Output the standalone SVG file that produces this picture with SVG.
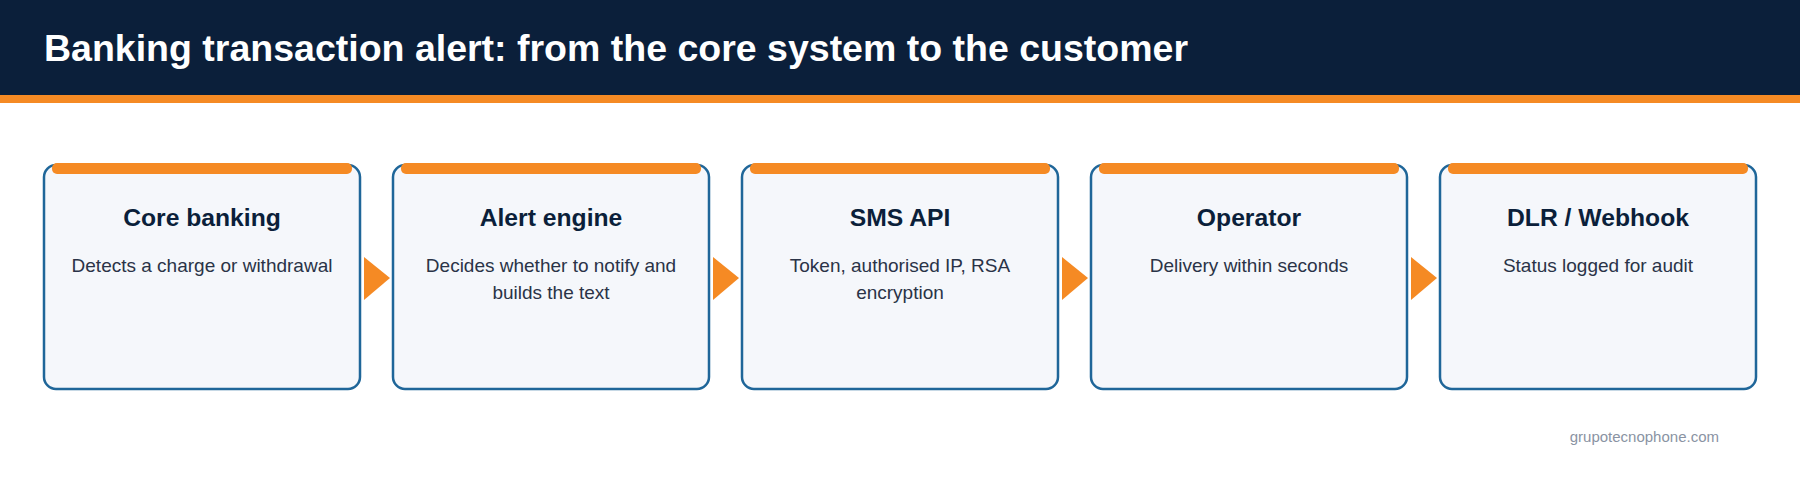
<svg xmlns="http://www.w3.org/2000/svg" width="1800" height="481" viewBox="0 0 1800 481">
<style>
.box{fill:#f5f7fb;stroke:#1f6699;stroke-width:2.5}
.bar{fill:#f58a24}
.t{font-family:"Liberation Sans",Arial,sans-serif;font-weight:bold;font-size:24.7px;fill:#0b1f3a;text-anchor:middle}
.d{font-family:"Liberation Sans",Arial,sans-serif;font-size:19px;fill:#2a3347;text-anchor:middle}
.arr{fill:#f58a24}
</style>
<rect width="1800" height="481" fill="#fff"/>
<rect width="1800" height="95" fill="#0b1f3a"/>
<rect y="95" width="1800" height="8" fill="#f58a24"/>
<text x="44" y="61" font-family="Liberation Sans,Arial,sans-serif" font-weight="bold" font-size="37.5" fill="#fff">Banking transaction alert: from the core system to the customer</text>
<g id="n1"><rect class="box" x="44" y="165" width="316" height="224" rx="12"/><rect class="bar" x="52" y="163" width="300" height="11" rx="5"/><text class="t" x="202" y="226">Core banking</text><text class="d" x="202" y="272">Detects a charge or withdrawal</text></g>
<g id="n2"><rect class="box" x="393" y="165" width="316" height="224" rx="12"/><rect class="bar" x="401" y="163" width="300" height="11" rx="5"/><text class="t" x="551" y="226">Alert engine</text><text class="d" x="551" y="272">Decides whether to notify and</text><text class="d" x="551" y="299">builds the text</text></g>
<g id="n3"><rect class="box" x="742" y="165" width="316" height="224" rx="12"/><rect class="bar" x="750" y="163" width="300" height="11" rx="5"/><text class="t" x="900" y="226">SMS API</text><text class="d" x="900" y="272">Token, authorised IP, RSA</text><text class="d" x="900" y="299">encryption</text></g>
<g id="n4"><rect class="box" x="1091" y="165" width="316" height="224" rx="12"/><rect class="bar" x="1099" y="163" width="300" height="11" rx="5"/><text class="t" x="1249" y="226">Operator</text><text class="d" x="1249" y="272">Delivery within seconds</text></g>
<g id="n5"><rect class="box" x="1440" y="165" width="316" height="224" rx="12"/><rect class="bar" x="1448" y="163" width="300" height="11" rx="5"/><text class="t" x="1598" y="226">DLR / Webhook</text><text class="d" x="1598" y="272">Status logged for audit</text></g>
<g id="connectors">
<polygon class="arr" points="364,257 390,278 364,300"/>
<polygon class="arr" points="713,257 739,278 713,300"/>
<polygon class="arr" points="1062,257 1088,278 1062,300"/>
<polygon class="arr" points="1411,257 1437,278 1411,300"/>
</g>
<text x="1719" y="442" text-anchor="end" font-family="Liberation Sans,Arial,sans-serif" font-size="15" fill="#8a93a3">grupotecnophone.com</text>
</svg>
